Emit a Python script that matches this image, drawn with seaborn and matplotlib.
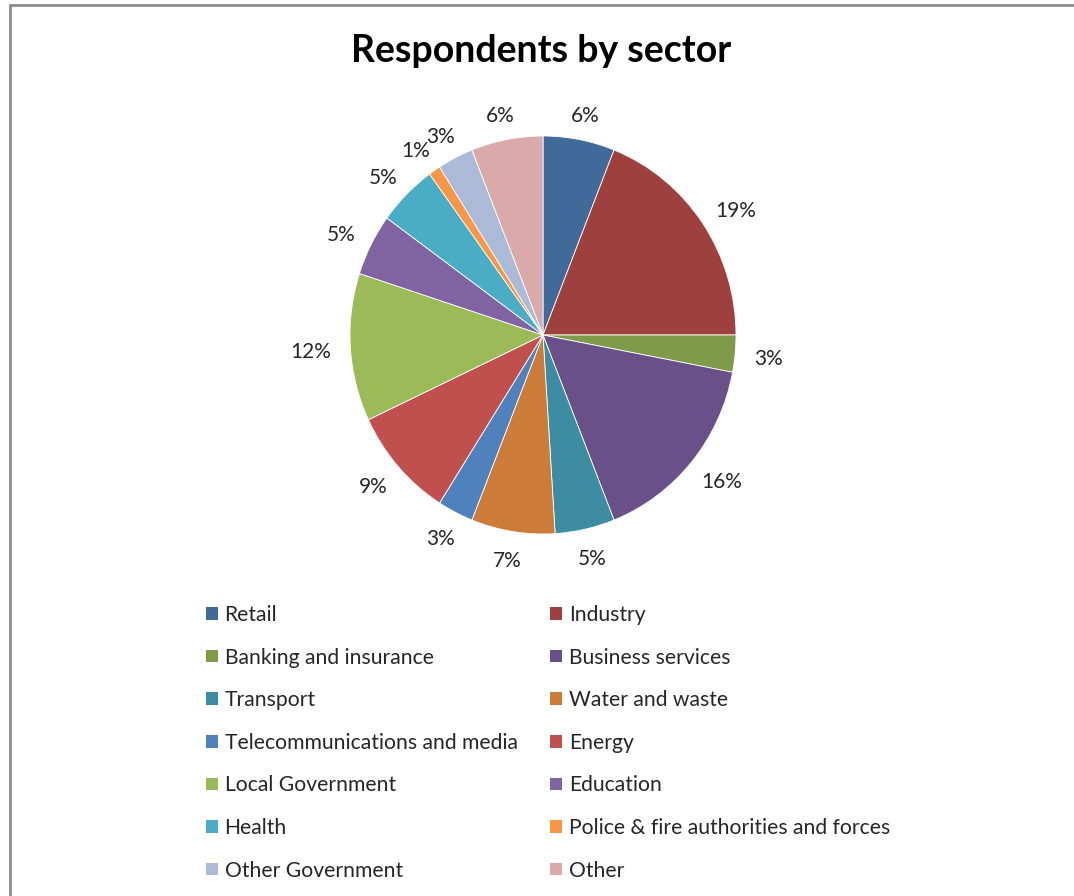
import matplotlib
matplotlib.use("Agg")
import numpy as np
import matplotlib.pyplot as plt
import seaborn as sns
from matplotlib.patches import Patch
from matplotlib.lines import Line2D

sns.set_theme(style="white")
plt.rcParams['font.family'] = ['Lato', 'DejaVu Sans']

categories = ["Retail", "Industry", "Banking and insurance", "Business services",
              "Transport", "Water and waste", "Telecommunications and media", "Energy",
              "Local Government", "Education", "Health",
              "Police & fire authorities and forces", "Other Government", "Other"]
values = [6, 19, 3, 16, 5, 7, 3, 9, 12, 5, 5, 1, 3, 6]
colors = ["#3F6A9A", "#9E413E", "#7F9A48", "#6A5088", "#3C8CA3", "#CC7B38",
          "#4F81BD", "#C0504D", "#9BBB59", "#8064A2", "#4BACC6", "#F79646",
          "#AABAD7", "#D9AAA9"]

W, H = 1074, 896
fig = plt.figure(figsize=(W / 100, H / 100), dpi=100)
fig.patch.set_facecolor("white")

# pie axes
cx, cy, rx, ry = 543, 335, 193, 199
lim = 1.3
aw, ah = 2 * lim * rx, 2 * lim * ry
ax = fig.add_axes([(cx - aw / 2) / W, (H - cy - ah / 2) / H, aw / W, ah / H])
wedges, texts, autotexts = ax.pie(
    values, colors=colors, startangle=90, counterclock=False,
    autopct=lambda p: f"{p:.0f}%", pctdistance=1.17,
    wedgeprops=dict(linewidth=0.6, edgecolor="white"),
    textprops=dict(fontsize=15, color="#262626"))
ax.set_aspect("auto")
ax.set_xlim(-lim, lim)
ax.set_ylim(-lim, lim)
ax.axis("off")

# place percentage labels just outside the pie edge (Excel "outside end" style)
fig.canvas.draw()
renderer = fig.canvas.get_renderer()
gap = 19.0
yshift = -3.0
for w, t in zip(wedges, autotexts):
    mid = np.deg2rad((w.theta1 + w.theta2) / 2)
    ux, uy = np.cos(mid), np.sin(mid)
    bb = t.get_window_extent(renderer)
    hw, hh = bb.width / 2, bb.height / 2 * 0.8
    px = (rx + gap) * ux + hw * ux
    py = (ry + gap) * uy + hh * uy + yshift
    t.set_position((px / rx, py / ry))
    t.set_ha("center")
    t.set_va("center")

fig.text(541 / W, 1 - 51 / H, "Respondents by sector", ha="center", va="center",
         fontsize=27, fontweight="bold", color="black")

# legend, row-wise order like Excel
handles = [Patch(facecolor=c, edgecolor="none") for c in colors]
order = list(range(0, len(values), 2)) + list(range(1, len(values), 2))
leg = fig.legend([handles[i] for i in order], [categories[i] for i in order],
                 ncol=2, loc="upper left", bbox_to_anchor=(206 / W, 1 - 605 / H),
                 frameon=False, fontsize=15.2, handlelength=0.55, handleheight=0.55,
                 handletextpad=0.33, labelspacing=1.07, columnspacing=1.55,
                 borderaxespad=0, borderpad=0)
for t in leg.get_texts():
    t.set_color("#262626")

# chart frame lines (top and left)
fig.add_artist(Line2D([9.5 / W, 1], [1 - 5 / H, 1 - 5 / H], color="#8C8C8C", lw=2,
                      transform=fig.transFigure))
fig.add_artist(Line2D([9.5 / W, 9.5 / W], [0, 1 - 5 / H], color="#8C8C8C", lw=2,
                      transform=fig.transFigure))

fig.savefig("out.png", dpi=100, facecolor="white")
